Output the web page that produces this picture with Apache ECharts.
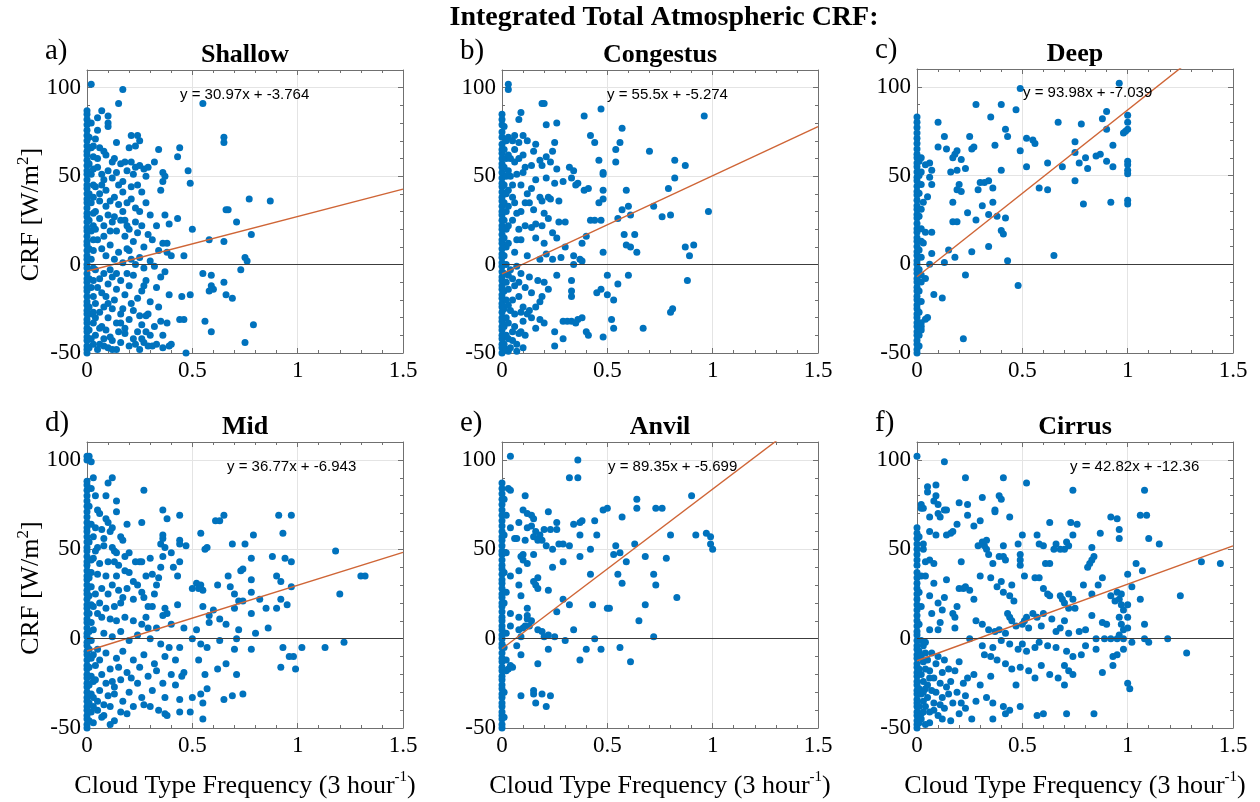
<!DOCTYPE html>
<html><head><meta charset="utf-8">
<script src="https://cdn.jsdelivr.net/npm/echarts@6/dist/echarts.min.js"></script>
<style>html,body{margin:0;padding:0;background:#fff}#c{width:1260px;height:802px}</style>
</head><body><div id="c"></div>
<script>
// ---------------- DATA ----------------
const figureTitle = 'Integrated Total Atmospheric CRF:';
const panelTitles = ['Shallow', 'Congestus', 'Deep', 'Mid', 'Anvil', 'Cirrus'];
const panelLetters = ['a)', 'b)', 'c)', 'd)', 'e)', 'f)'];
const slopes = [30.97, 55.5, 93.98, 36.77, 89.35, 42.82];
const intercepts = [-3.764, -5.274, -7.039, -6.943, -5.699, -12.36];
const equationLabels = ['y = 30.97x + -3.764', 'y = 55.5x + -5.274', 'y = 93.98x + -7.039',
  'y = 36.77x + -6.943', 'y = 89.35x + -5.699', 'y = 42.82x + -12.36'];
const xTickValues = [0, 0.5, 1, 1.5];
const yTickValues = [-50, 0, 50, 100];
const xMin = 0, xMax = 1.5, yMin = -50, yMax = 110;

// points sitting on x = 0 (CRF values)
const shallowZero = [-50,-48,-46,-43,-41,-38,-36,-33,-31,-28,-26,-23,-21,-18,-15,-13,-10,-8,-5,-2,0,3,5,8,11,13,16,19,21,24,27,29,32,35,37,40,43,45,48,51,53,56,59,62,64,67,70,73,76,79,82,85,87];
const congestusZero = [-50,-47,-45,-42,-40,-37,-35,-32,-30,-27,-24,-22,-19,-17,-14,-12,-9,-7,-4,-1,1,4,6,9,12,14,17,20,22,25,28,30,33,36,38,41,44,46,49,52,55,57,60,63,65,68,72,75,79,82,85];
const deepZero = [-50,-48,-45,-43,-40,-38,-35,-33,-30,-28,-25,-23,-20,-18,-15,-13,-10,-8,-5,-3,0,2,5,7,10,13,15,18,20,23,26,28,31,33,36,39,41,44,47,49,52,55,57,60,62,65,68,71,74,77,80,83];
const midZero = [-50,-48,-45,-43,-40,-38,-35,-33,-30,-27,-25,-22,-20,-17,-15,-12,-9,-7,-4,-2,1,3,6,9,11,14,17,19,22,25,27,30,33,35,38,41,43,46,49,51,54,57,60,62,65,68,71,74,77,80,83,86,88,100,102];
const anvilZero = [-50,-48,-45,-43,-41,-38,-36,-33,-31,-28,-26,-23,-21,-18,-16,-13,-11,-8,-5,-3,0,2,5,7,10,12,15,18,20,23,25,28,31,33,36,39,41,44,47,49,52,55,57,60,63,66,69,72,75,78,81,84,87];
const cirrusZero = [-50,-48,-46,-43,-41,-38,-36,-34,-31,-29,-26,-24,-21,-19,-16,-14,-11,-9,-6,-4,-1,2,4,7,10,13,16,19,22,25,28,31,34,37,41,44,47,50,53,56,59,62,102];

// remaining points [frequency, CRF]
const shallowPts = [[0.02,102],[0.17,99],[0.15,91],[0.55,91],[0.07,87],[0.05,83],[0.1,84],[0.1,80],[0.1,78],
[0.14,69],[0.21,73],[0.24,73],[0.25,70],[0.23,67],[0.2,66],[0.06,66],[0.08,64],[0.09,62],[0.13,60],[0.16,57],[0.18,58],[0.21,58],[0.23,55],[0.27,54],[0.29,55],[0.32,58],[0.34,65],[0.44,66],[0.43,61],[0.65,72],[0.65,69],
[0.05,55],[0.07,51],[0.1,53],[0.12,49],[0.14,52],[0.17,47],[0.19,53],[0.22,51],[0.24,45],[0.26,41],[0.28,50],[0.36,52],[0.37,50],[0.36,47],[0.35,42],[0.48,53],[0.49,46],
[0.04,44],[0.06,40],[0.09,42],[0.11,36],[0.13,38],[0.15,34],[0.17,41],[0.19,35],[0.21,37],[0.23,32],[0.25,30],[0.28,35],[0.3,28],[0.33,22],[0.37,28],[0.39,23],[0.43,26],
[0.04,30],[0.06,26],[0.08,22],[0.1,28],[0.12,24],[0.14,19],[0.16,25],[0.18,16],[0.2,20],[0.22,13],[0.24,18],[0.26,22],[0.29,17],[0.31,14],[0.34,8],[0.36,12],[0.38,7],[0.4,5],[0.46,5],[0.5,20],[0.58,14],
[0.05,14],[0.07,9],[0.09,5],[0.11,11],[0.13,3],[0.15,7],[0.17,1],[0.19,9],[0.21,3],[0.23,0],[0.25,4],[0.27,-2],[0.3,2],[0.32,-1],
[0.04,-3],[0.06,-8],[0.08,-5],[0.1,-11],[0.12,-7],[0.14,-14],[0.16,-9],[0.18,-17],[0.2,-12],[0.22,-6],[0.24,-19],[0.26,-15],[0.28,-9],[0.3,-21],[0.33,-13],[0.35,-7],[0.37,-4],[0.39,-17],[0.45,-18],[0.49,-17],
[0.04,-22],[0.06,-27],[0.08,-24],[0.1,-30],[0.12,-25],[0.14,-33],[0.16,-28],[0.18,-36],[0.2,-31],[0.22,-26],[0.24,-38],[0.26,-34],[0.28,-29],[0.3,-40],[0.32,-35],[0.35,-32],[0.38,-33],[0.44,-31],[0.46,-31],
[0.04,-40],[0.06,-45],[0.08,-42],[0.1,-47],[0.12,-43],[0.14,-48],[0.16,-44],[0.18,-39],[0.2,-46],[0.22,-42],[0.25,-48],[0.27,-44],[0.29,-46],[0.33,-45],[0.36,-47],[0.39,-46],[0.4,-45],[0.47,-50],
[0.55,-5],[0.59,-6],[0.59,-12],[0.6,-14],[0.58,-15],[0.65,-10],[0.66,-17],[0.69,-19],[0.56,-32],[0.59,-38],[0.79,-34],[0.75,-44],[0.66,31],[0.67,31],[0.71,24],[0.77,37],[0.87,36],[0.78,17],[0.75,4],[0.76,2],[0.73,-3],[0.65,13],[0.38,12],
[0.01,-47],[0.02,-42],[0.01,-37],[0.03,-33],[0.02,-28],[0.01,-24],[0.03,-18],[0.02,-13],[0.01,-8],[0.03,-2],[0.02,3],[0.01,9],[0.03,14],[0.02,19],[0.01,25],[0.03,29],[0.02,35],[0.01,40],[0.03,45],[0.02,51],[0.01,57],[0.03,61],[0.02,66],[0.01,72],[0.02,80],[0.03,-45],[0.03,-27],[0.03,-9],[0.03,8],[0.03,22],[0.03,38],[0.03,54],
[0.05,60],[0.07,45],[0.09,33],[0.11,19],[0.13,27],[0.15,45],[0.17,30],[0.19,22],[0.21,44],[0.23,24],[0.25,56],[0.27,10],[0.29,-28],[0.05,-13],[0.07,-35],[0.09,-18],[0.11,-41],[0.13,-20],[0.15,-38],[0.17,-25],[0.19,-5],[0.21,-22],[0.23,-45],[0.25,-29],[0.27,-12],[0.31,-46],[0.34,-24],[0.36,-40],[0.05,-48],[0.07,-16],[0.09,-37],[0.11,-3],[0.06,36],[0.08,48],[0.12,58],[0.18,25],[0.2,8],[0.26,-42],[0.28,-38],[0.16,-33],[0.1,-22],[0.12,-48],[0.14,-5],[0.08,16],[0.04,20],[0.04,-30],[0.06,-36],[0.08,-46],[0.03,67],[0.04,71],[0.05,76]];

const congestusPts = [[0.03,102],[0.03,99],[0.19,91],[0.2,91],[0.47,88],[0.96,84],[0.39,84],[0.09,86],[0.08,82],[0.26,80],[0.21,79],[0.42,73],[0.57,77],[0.06,73],[0.1,73],[0.05,70],[0.08,69],[0.12,70],[0.16,68],[0.25,69],[0.44,69],[0.56,69],[0.7,64],[0.15,64],[0.24,64],[0.21,61],[0.54,65],[0.46,59],[0.54,58],[0.08,60],[0.06,58],[0.18,59],[0.23,58],[0.19,56],[0.14,56],[0.11,55],[0.26,54],[0.32,55],[0.34,53],[0.48,52],[0.48,51],[0.82,59],[0.87,56],[0.1,52],[0.07,51],[0.04,50],[0.16,48],[0.21,49],[0.33,49],[0.35,45],[0.36,46],[0.14,43],[0.05,45],[0.09,45],[0.25,46],[0.29,47],[0.82,49],[0.39,42],[0.41,43],[0.48,42],[0.59,42],[0.79,43],[0.18,38],[0.22,38],[0.19,36],[0.23,37],[0.11,35],[0.06,35],[0.13,35],[0.27,36],[0.46,35],[0.48,37],[0.57,31],[0.6,33],[0.61,28],[0.72,33],[0.76,27],[0.8,28],[0.98,30],[0.09,30],[0.15,31],[0.2,29],[0.07,29],[0.05,25],[0.16,23],[0.19,22],[0.22,26],[0.27,24],[0.3,24],[0.42,25],[0.44,25],[0.47,25],[0.55,26],[0.08,20],[0.14,21],[0.58,17],[0.63,17],[0.4,16],[0.09,14],[0.16,15],[0.26,15],[0.24,18],[0.59,11],[0.61,10],[0.64,7],[0.2,12],[0.3,10],[0.38,12],[0.87,10],[0.91,11],[0.89,5],[0.48,7],[0.06,7],[0.12,5],[0.21,6],[0.24,3],[0.28,4],[0.34,5],[0.37,3],[0.38,2],[0.34,0],[0.18,3],[0.07,-1],[0.04,-3],[0.09,-5],[0.13,-7],[0.17,-9],[0.2,-10],[0.26,-6],[0.33,-9],[0.5,-6],[0.6,-6],[0.88,-9],[0.06,-12],[0.11,-13],[0.14,-16],[0.19,-18],[0.22,-14],[0.33,-15],[0.33,-18],[0.45,-16],[0.47,-14],[0.5,-17],[0.55,-11],[0.53,-20],[0.05,-20],[0.08,-18],[0.1,-24],[0.13,-26],[0.16,-24],[0.18,-21],[0.12,-28],[0.09,-27],[0.14,-30],[0.18,-31],[0.2,-33],[0.25,-38],[0.29,-32],[0.31,-32],[0.33,-32],[0.36,-31],[0.38,-30],[0.41,-40],[0.52,-31],[0.53,-36],[0.67,-36],[0.8,-27],[0.81,-25],[0.06,-35],[0.09,-38],[0.11,-40],[0.16,-36],[0.25,-46],[0.29,-42],[0.35,-33],[0.48,-41],[0.4,-38],[0.07,-45],[0.1,-47],[0.03,-49],[0.05,-43],[0.08,-39],[0.02,-48],[0.04,-47],
[0.01,-45],[0.02,-40],[0.01,-35],[0.02,-30],[0.01,-25],[0.02,-20],[0.01,-15],[0.02,-10],[0.01,-5],[0.02,0],[0.01,5],[0.02,10],[0.01,15],[0.02,20],[0.01,25],[0.02,30],[0.01,35],[0.02,40],[0.01,45],[0.02,50],[0.01,55],[0.02,60],[0.01,65],[0.02,70],[0.01,78],[0.03,-42],[0.03,-33],[0.03,-23],[0.03,-14],[0.03,-6],[0.03,12],[0.03,22],[0.03,33],[0.03,42],[0.03,53],[0.03,62],[0.03,72],
[0.05,38],[0.04,60],[0.06,65],[0.07,14],[0.05,-8],[0.06,-28],[0.08,-10],[0.1,-32],[0.04,-26],[0.05,-38],[0.07,-49],[0.1,62],[0.12,40],[0.11,22]];

const deepPts = [[0.96,102],[0.49,99],[0.28,90],[0.4,90],[0.47,87],[0.9,86],[0.35,83],[1.0,84],[0.1,80],[0.67,80],[0.78,79],[1.0,80],[0.88,82],[0.42,76],[0.9,76],[1.0,76],[0.99,75],[0.98,74],[0.43,72],[0.25,72],[0.13,72],[0.52,71],[0.55,70],[0.56,68],[0.75,69],[0.26,65],[0.27,66],[0.1,66],[0.14,65],[0.37,67],[0.93,67],[0.49,64],[0.75,63],[0.19,64],[0.18,62],[0.17,60],[0.21,59],[0.85,61],[0.87,62],[0.8,60],[0.9,58],[1.0,58],[1.0,56],[0.62,57],[0.77,57],[0.69,55],[0.52,55],[0.93,55],[0.81,54],[1.0,53],[1.0,51],[0.4,53],[0.23,54],[0.19,53],[0.16,52],[0.07,53],[0.06,57],[0.04,56],[0.06,49],[0.07,45],[0.75,47],[0.3,46],[0.32,46],[0.34,47],[0.2,45],[0.19,42],[0.21,41],[0.29,42],[0.36,43],[0.58,43],[0.62,42],[0.17,35],[0.36,35],[0.31,33],[0.05,38],[0.03,35],[0.79,34],[0.92,35],[1.0,36],[1.0,34],[0.24,29],[0.34,28],[0.38,27],[0.42,26],[0.28,25],[0.17,24],[0.19,24],[0.07,18],[0.04,18],[0.4,19],[0.41,17],[0.02,13],[0.03,12],[0.34,10],[0.15,8],[0.26,7],[0.07,6],[0.65,5],[0.18,4],[0.02,4],[0.43,2],[0.06,0],[0.13,1],[0.02,-6],[0.04,-8],[0.23,-6],[0.48,-12],[0.08,-17],[0.12,-19],[0.05,-30],[0.04,-31],[0.02,-35],[0.02,-37],[0.22,-42],
[0.01,-46],[0.01,-40],[0.02,-33],[0.01,-27],[0.02,-21],[0.01,-15],[0.02,-10],[0.01,-3],[0.01,8],[0.02,20],[0.01,27],[0.02,31],[0.01,40],[0.02,45],[0.01,50],[0.02,52],[0.01,58],[0.02,60]];

const midPts = [[0.01,102],[0.02,99],[0.03,90],[0.12,90],[0.1,87],[0.27,83],[0.09,80],[0.14,77],[0.14,71],[0.06,70],[0.09,67],[0.1,65],[0.26,65],[0.19,64],[0.12,62],[0.11,60],[0.04,62],[0.07,61],[0.36,72],[0.38,67],[0.44,69],[0.61,66],[0.63,66],[0.65,69],[0.91,69],[0.97,69],[0.93,59],[0.54,59],[0.79,58],[0.16,57],[0.17,55],[0.36,58],[0.36,56],[0.44,55],[0.44,53],[0.35,53],[0.37,51],[0.57,51],[0.56,50],[0.69,53],[0.75,53],[0.12,51],[0.13,49],[0.08,52],[0.05,51],[0.04,49],[0.2,48],[0.18,46],[0.23,43],[0.25,43],[0.26,43],[0.36,46],[0.4,48],[0.44,43],[0.3,45],[0.1,43],[0.13,43],[0.15,41],[0.78,45],[0.88,46],[0.94,45],[0.97,43],[1.18,49],[0.02,37],[0.05,36],[0.09,35],[0.14,35],[0.2,37],[0.28,35],[0.31,36],[0.34,34],[0.43,35],[0.22,32],[0.12,30],[0.07,28],[0.15,27],[0.19,28],[0.26,26],[0.33,30],[0.52,31],[0.54,30],[0.5,28],[0.55,27],[0.53,28],[0.67,35],[0.73,38],[0.74,39],[0.78,33],[0.9,35],[0.92,32],[0.97,29],[1.3,35],[1.32,35],[0.62,30],[0.68,29],[0.7,25],[0.78,26],[1.2,25],[0.92,22],[0.95,19],[0.9,17],[0.82,22],[0.85,17],[0.72,21],[0.74,21],[0.7,17],[0.78,14],[0.6,16],[0.58,13],[0.63,11],[0.55,18],[0.43,19],[0.37,17],[0.38,14],[0.36,13],[0.31,18],[0.29,18],[0.27,23],[0.17,23],[0.16,20],[0.13,18],[0.09,17],[0.05,14],[0.07,12],[0.11,11],[0.14,10],[0.18,12],[0.22,10],[0.26,8],[0.29,6],[0.33,6],[0.4,8],[0.46,6],[0.52,5],[0.58,9],[0.66,8],[0.72,5],[0.8,3],[0.86,6],[0.03,5],[0.08,3],[0.12,1],[0.16,4],[0.2,-1],[0.24,2],[0.3,0],[0.35,-3],[0.39,-5],[0.44,-5],[0.5,0],[0.54,-3],[0.57,-5],[0.63,-1],[0.71,0],[0.7,-6],[0.78,-6],[0.93,-5],[1.02,-5],[1.13,-5],[1.22,-2],[0.96,-10],[0.98,-10],[0.92,-16],[0.99,-17],[0.05,-6],[0.09,-8],[0.14,-11],[0.17,-7],[0.22,-12],[0.27,-9],[0.32,-14],[0.37,-10],[0.42,-12],[0.46,-19],[0.53,-12],[0.56,-20],[0.62,-17],[0.66,-14],[0.71,-20],[0.04,-15],[0.07,-20],[0.11,-17],[0.16,-23],[0.19,-19],[0.24,-25],[0.29,-21],[0.33,-18],[0.36,-25],[0.42,-26],[0.45,-21],[0.5,-33],[0.54,-31],[0.57,-28],[0.55,-36],[0.65,-34],[0.69,-32],[0.74,-31],[0.06,-29],[0.1,-32],[0.13,-27],[0.17,-35],[0.2,-30],[0.22,-38],[0.26,-33],[0.3,-38],[0.37,-33],[0.37,-42],[0.44,-34],[0.05,-40],[0.08,-43],[0.11,-38],[0.13,-46],[0.16,-41],[0.03,-47],[0.44,-41],[0.49,-41],[0.55,-45],[0.38,-43],[0.27,-37],
[0.01,-46],[0.02,-41],[0.01,-36],[0.02,-31],[0.01,-26],[0.02,-21],[0.01,-16],[0.02,-11],[0.01,-6],[0.02,-1],[0.01,4],[0.02,9],[0.01,14],[0.02,19],[0.01,24],[0.02,29],[0.01,34],[0.02,44],[0.01,54],[0.02,64],[0.01,74],[0.02,84],[0.03,-38],[0.03,-24],[0.03,-9],[0.03,18],[0.03,45],[0.03,57],
[0.05,-35],[0.07,-44],[0.09,-25],[0.11,-48],[0.13,-31],[0.15,-16],[0.19,-42],[0.21,-22],[0.25,-16],[0.31,-29],[0.34,-40],[0.4,-20],[0.06,20],[0.1,25],[0.14,48],[0.18,38],[0.22,22],[0.24,30],[0.28,12],[0.32,25],[0.35,40],[0.41,40],[0.47,52],[0.06,-12],[0.08,-37],[0.12,-24],[0.04,-23],[0.03,-33],[0.04,25],[0.06,42],[0.08,56],[0.05,72],[0.04,80]];

const anvilPts = [[0.04,102],[0.36,100],[0.32,90],[0.36,90],[0.04,83],[0.03,84],[0.11,80],[0.9,80],[0.64,78],[0.1,72],[0.12,70],[0.14,69],[0.15,67],[0.08,65],[0.14,63],[0.12,62],[0.04,62],[0.16,60],[0.18,58],[0.2,61],[0.23,61],[0.26,61],[0.26,65],[0.22,71],[0.37,65],[0.38,66],[0.44,66],[0.48,72],[0.5,73],[0.57,68],[0.64,73],[0.73,73],[0.76,73],[0.07,56],[0.06,56],[0.11,55],[0.15,57],[0.17,55],[0.19,55],[0.21,52],[0.24,50],[0.27,53],[0.29,53],[0.32,52],[0.34,64],[0.37,58],[0.45,58],[0.8,58],[0.92,58],[0.97,59],[0.99,57],[0.99,53],[1.0,50],[0.63,53],[0.54,52],[0.53,47],[0.56,48],[0.59,43],[0.68,46],[0.78,45],[0.1,47],[0.09,46],[0.1,44],[0.12,42],[0.08,38],[0.15,47],[0.24,40],[0.29,43],[0.42,50],[0.37,46],[0.15,32],[0.16,30],[0.17,28],[0.17,34],[0.22,27],[0.08,30],[0.09,24],[0.04,35],[0.42,36],[0.55,36],[0.57,31],[0.72,36],[0.73,30],[0.83,23],[0.29,22],[0.32,19],[0.43,19],[0.5,17],[0.51,17],[0.68,19],[0.26,15],[0.12,17],[0.12,13],[0.12,11],[0.04,14],[0.1,6],[0.11,7],[0.13,7],[0.14,10],[0.08,12],[0.04,7],[0.08,5],[0.09,1],[0.17,5],[0.19,4],[0.2,1],[0.22,2],[0.25,1],[0.34,5],[0.44,0],[0.65,10],[0.72,1],[0.3,-1],[0.07,-4],[0.09,-9],[0.4,-6],[0.47,-6],[0.56,-5],[0.22,-6],[0.37,-12],[0.61,-13],[0.17,-14],[0.05,-16],[0.03,-17],[0.04,-15],[0.02,-18],[0.09,-32],[0.15,-31],[0.15,-29],[0.16,-36],[0.19,-31],[0.21,-38],[0.23,-32],
[0.01,-44],[0.01,-30],[0.02,-12],[0.01,-5],[0.02,3],[0.01,20],[0.02,26],[0.01,37],[0.02,48],[0.01,58],[0.02,69],[0.01,78]];

const cirrusPts = [[0.13,99],[0.23,90],[0.41,90],[0.52,87],[0.05,85],[0.09,86],[0.74,83],[1.08,83],[0.05,82],[0.09,80],[0.08,77],[0.2,76],[0.24,75],[0.31,79],[0.39,80],[0.4,78],[0.1,75],[0.13,72],[0.14,72],[0.02,75],[0.02,73],[0.03,73],[0.06,68],[0.1,70],[0.11,68],[0.24,69],[0.3,66],[0.27,63],[0.19,64],[0.16,59],[0.17,60],[0.14,58],[0.09,58],[0.06,60],[0.44,68],[0.37,71],[0.37,72],[0.63,65],[0.73,65],[0.76,64],[0.92,68],[0.95,67],[0.96,61],[0.96,56],[1.06,69],[1.09,69],[1.1,56],[1.15,53],[0.87,59],[0.83,51],[0.74,58],[0.57,58],[0.5,58],[0.58,53],[0.6,52],[0.65,50],[0.66,53],[0.71,54],[0.72,52],[0.84,46],[0.83,44],[0.82,42],[0.81,40],[0.7,50],[0.68,50],[0.48,53],[0.49,47],[0.49,44],[0.49,41],[0.41,52],[0.32,52],[0.31,54],[0.33,55],[0.33,50],[0.34,47],[0.39,46],[0.41,46],[0.42,44],[0.36,42],[0.21,43],[0.29,52],[0.06,44],[0.04,43],[0.08,42],[0.03,50],[0.03,53],[0.04,35],[0.08,31],[0.14,33],[0.2,28],[0.22,28],[0.23,29],[0.25,27],[0.27,22],[0.3,35],[0.35,34],[0.38,29],[0.4,32],[0.41,26],[0.44,24],[0.45,30],[0.46,21],[0.51,35],[0.56,34],[0.58,34],[0.6,28],[0.62,25],[0.63,24],[0.61,42],[0.63,42],[0.68,24],[0.69,22],[0.72,25],[0.7,20],[0.74,22],[0.72,17],[0.75,17],[0.79,30],[0.83,25],[0.86,30],[0.88,34],[0.92,24],[0.94,21],[0.95,26],[0.96,22],[0.97,25],[0.97,19],[0.98,16],[1.0,36],[1.04,42],[1.07,38],[1.02,29],[1.06,22],[1.0,12],[1.0,19],[1.25,24],[1.35,43],[1.44,42],[0.83,13],[0.88,9],[0.9,8],[0.96,12],[0.97,8],[0.98,5],[1.0,6],[0.96,2],[1.08,8],[0.06,24],[0.1,20],[0.13,23],[0.12,16],[0.17,14],[0.19,18],[0.18,12],[0.18,6],[0.11,9],[0.07,14],[0.06,5],[0.1,5],[0.28,10],[0.31,8],[0.34,5],[0.37,4],[0.39,5],[0.42,3],[0.43,14],[0.44,12],[0.45,10],[0.47,7],[0.5,8],[0.51,10],[0.52,12],[0.53,6],[0.55,14],[0.57,12],[0.59,7],[0.6,14],[0.64,11],[0.66,4],[0.68,6],[0.7,10],[0.72,3],[0.77,4],[0.8,5],[0.85,0],[0.89,0],[0.92,0],[0.95,0],[0.98,0],[1.02,-2],[1.08,0],[1.19,0],[1.1,-2],[0.25,0],[0.31,-4],[0.36,-5],[0.4,-1],[0.44,-3],[0.48,-6],[0.5,-3],[0.52,-7],[0.56,-5],[0.58,-2],[0.62,-4],[0.66,-5],[0.71,-7],[0.74,-10],[0.78,-9],[0.8,-4],[0.85,-6],[0.93,-10],[0.95,-9],[0.98,-6],[1.28,-8],[0.32,-9],[0.35,-10],[0.38,-12],[0.42,-14],[0.45,-17],[0.49,-16],[0.53,-18],[0.56,-22],[0.59,-15],[0.63,-20],[0.67,-22],[0.7,-15],[0.72,-18],[0.74,-20],[0.7,-26],[0.88,-19],[0.93,-15],[1.0,-25],[1.01,-28],[0.47,-26],[0.35,-21],[0.3,-26],[0.27,-20],[0.24,-22],[0.2,-13],[0.18,-18],[0.16,-24],[0.14,-27],[0.12,-19],[0.08,-22],[0.06,-18],[0.05,-26],[0.09,-30],[0.12,-33],[0.15,-31],[0.19,-30],[0.21,-36],[0.23,-32],[0.28,-35],[0.33,-33],[0.36,-36],[0.41,-38],[0.44,-40],[0.49,-38],[0.57,-43],[0.6,-42],[0.71,-42],[0.84,-42],[0.06,-41],[0.1,-43],[0.13,-39],[0.16,-46],[0.23,-39],[0.26,-45],[0.36,-45],[0.42,-42],[0.04,-48],[0.08,-36],[0.02,-45],
[0.01,-47],[0.02,-42],[0.01,-38],[0.03,-35],[0.02,-31],[0.01,-28],[0.03,-24],[0.02,-20],[0.01,-17],[0.03,-13],[0.02,-10],[0.01,-7],[0.03,-4],[0.02,-1],[0.04,-8],[0.04,-17],[0.04,-28],[0.04,-38],[0.01,8],[0.02,18],[0.01,26],[0.02,35],[0.01,57],
[0.03,-30],[0.05,-33],[0.05,-12],[0.07,-29],[0.07,-8],[0.09,-14],[0.11,-25],[0.11,-37],[0.13,-12],[0.15,-17],[0.17,-36],[0.2,-42],[0.22,-25],[0.06,-47],[0.03,-41],[0.04,-2],[0.06,-22],[0.08,-40],[0.1,-10],[0.12,-45]];

const zeroColumns = [shallowZero, congestusZero, deepZero, midZero, anvilZero, cirrusZero];
const scatterPts = [shallowPts, congestusPts, deepPts, midPts, anvilPts, cirrusPts];

// ---------------- LAYOUT / STYLE ----------------
const grids = [
  {left: 87, top: 70, w: 316, h: 283}, {left: 502, top: 70, w: 316, h: 283}, {left: 917, top: 69, w: 316, h: 284},
  {left: 87, top: 442, w: 316, h: 286}, {left: 502, top: 442, w: 316, h: 286}, {left: 917, top: 442, w: 316, h: 286}
];
const eqOffsets = [[93, 25], [105, 25], [106, 24], [140, 25], [106, 25], [153, 25]];
const SERIF = '"Liberation Serif", "Times New Roman", serif';
const SANS = '"Liberation Sans", Arial, sans-serif';
const frameColor = '#707070';
const dotColor = '#0072BD';
const fitColor = '#CF6536';

const option = {animation: false, backgroundColor: '#fff', grid: [], xAxis: [], yAxis: [], series: [], graphic: []};

grids.forEach((g, i) => {
  option.grid.push({left: g.left, top: g.top, width: g.w, height: g.h, containLabel: false});
  const line = {show: true, onZero: false, lineStyle: {color: frameColor, width: 1}};
  const tick = {show: true, inside: true, length: 5, lineStyle: {color: frameColor}};
  const minor = {show: true, splitNumber: 5, length: 3, lineStyle: {color: frameColor}};
  option.xAxis.push({gridIndex: i, type: 'value', min: xMin, max: xMax, interval: 0.5, position: 'bottom',
    axisLine: line, axisTick: tick, minorTick: minor,
    splitLine: {show: true, lineStyle: {color: '#e4e4e4', width: 1}},
    axisLabel: {show: true, fontFamily: SERIF, fontSize: 23, color: '#000', margin: 6,
      formatter: v => xTickValues.includes(v) ? String(v) : ''}});
  option.xAxis.push({gridIndex: i, type: 'value', min: xMin, max: xMax, interval: 0.5, position: 'top',
    axisLine: line, axisTick: tick, minorTick: minor, splitLine: {show: false}, axisLabel: {show: false}});
  option.yAxis.push({gridIndex: i, type: 'value', min: yMin, max: yMax, interval: 50, position: 'left',
    axisLine: line, axisTick: tick, minorTick: minor,
    splitLine: {show: true, lineStyle: {color: '#e4e4e4', width: 1}},
    axisLabel: {show: true, fontFamily: SERIF, fontSize: 23, color: '#000', margin: 6, showMaxLabel: false,
      formatter: v => yTickValues.includes(v) ? String(v) : ''}});
  option.yAxis.push({gridIndex: i, type: 'value', min: yMin, max: yMax, interval: 50, position: 'right',
    axisLine: line, axisTick: tick, minorTick: minor, splitLine: {show: false}, axisLabel: {show: false}});

  const data = zeroColumns[i].map(y => [0, y]).concat(scatterPts[i]);
  option.series.push({type: 'scatter', xAxisIndex: 2 * i, yAxisIndex: 2 * i, data: data,
    symbolSize: 7, itemStyle: {color: dotColor, opacity: 1}, z: 3, silent: true,
    markLine: {silent: true, symbol: 'none', label: {show: false}, animation: false,
      lineStyle: {color: '#3c3c3c', width: 1.2, type: 'solid'}, data: [{yAxis: 0}]}});
  option.series.push({type: 'line', xAxisIndex: 2 * i, yAxisIndex: 2 * i, clip: true, showSymbol: false,
    data: [[xMin, intercepts[i]], [xMax, slopes[i] * xMax + intercepts[i]]],
    lineStyle: {color: fitColor, width: 1.4}, z: 4, silent: true});

  // texts
  option.graphic.push({type: 'text', x: g.left + eqOffsets[i][0], y: g.top + eqOffsets[i][1], z: 10,
    style: {text: equationLabels[i], font: '15px ' + SANS, fill: '#000', textVerticalAlign: 'middle', verticalAlign: 'middle'}});
  option.graphic.push({type: 'text', x: g.left + g.w / 2, y: g.top - 2, z: 10,
    style: {text: panelTitles[i], font: 'bold 26px ' + SERIF, fill: '#000', textAlign: 'center', align: 'center', textVerticalAlign: 'bottom', verticalAlign: 'bottom'}});
  option.graphic.push({type: 'text', x: g.left - 42, y: g.top - 19, z: 10,
    style: {text: panelLetters[i], font: '29px ' + SERIF, fill: '#000', textAlign: 'left', align: 'left', textVerticalAlign: 'middle', verticalAlign: 'middle'}});
  if (i % 3 === 0) {
    option.graphic.push({type: 'text', x: 31, y: g.top + g.h / 2 + 3, rotation: Math.PI / 2, z: 10,
      style: {text: '{a|CRF [W/m}{s|2}{a|]}', textAlign: 'center', align: 'center', textVerticalAlign: 'middle', verticalAlign: 'middle',
        rich: {a: {fontFamily: SERIF, fontSize: 26, lineHeight: 32, fill: '#000', verticalAlign: 'middle'},
               s: {fontFamily: SERIF, fontSize: 17, lineHeight: 32, fill: '#000', verticalAlign: 'top'}}}});
  }
  if (i >= 3) {
    option.graphic.push({type: 'text', x: g.left + g.w / 2, y: 786, z: 10,
      style: {text: '{a|Cloud Type Frequency (3 hour}{s|-1}{a|)}', textAlign: 'center', align: 'center', textVerticalAlign: 'middle', verticalAlign: 'middle',
        rich: {a: {fontFamily: SERIF, fontSize: 26, lineHeight: 32, fill: '#000', verticalAlign: 'middle'},
               s: {fontFamily: SERIF, fontSize: 15, lineHeight: 32, fill: '#000', verticalAlign: 'top'}}}});
  }
});
option.graphic.push({type: 'text', x: 664, y: 18, z: 10,
  style: {text: figureTitle, font: 'bold 28px ' + SERIF, fill: '#000', textAlign: 'center', align: 'center', textVerticalAlign: 'middle', verticalAlign: 'middle'}});

const chart = echarts.init(document.getElementById('c'), null, {renderer: 'canvas'});
chart.setOption(option);
</script></body></html>
